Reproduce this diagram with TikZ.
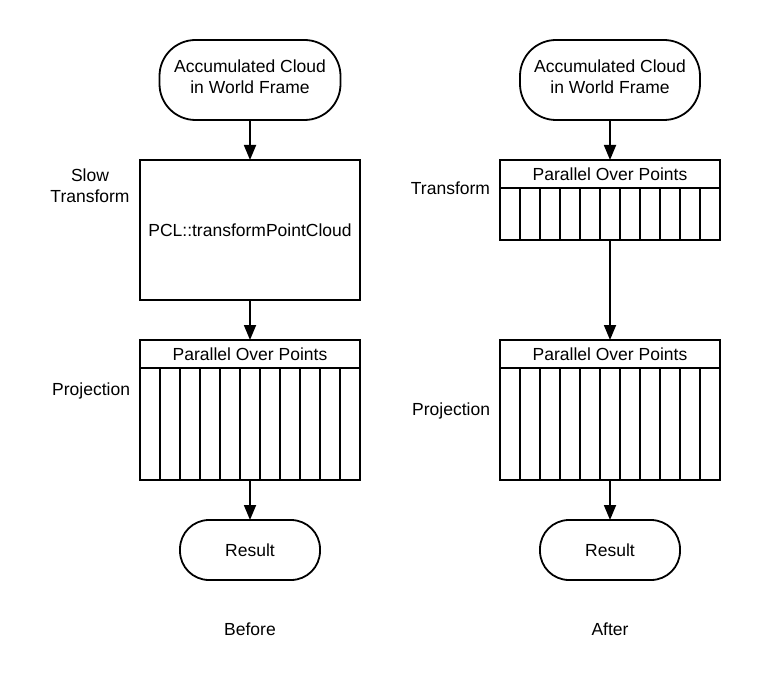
\documentclass[tikz,border=0pt]{standalone}
\usepackage{fontspec}
\setmainfont{Liberation Sans}
\usetikzlibrary{arrows.meta}
\begin{document}
\begin{tikzpicture}[x=1pt,y=-1pt,
  every node/.style={font=\fontsize{17.5}{21}\selectfont, inner sep=0pt, outer sep=0pt},
  ln/.style={line width=1.8pt},
  term/.style={ln, draw, rectangle, rounded corners=36pt, align=center},
  stepbox/.style={ln, draw, rectangle, align=center},
  lbl/.style={align=center},
  arr/.style={ln, -{Triangle[length=15pt,width=12pt]}}
]
\useasboundingbox (0,0) rectangle (770,700);

% ---------- Before ----------
\node[term, text depth=6pt, minimum width=181, minimum height=80] (accA) at (250,80) {Accumulated Cloud\\in World Frame};
\node[stepbox, minimum width=220, minimum height=140] (slow) at (250,230) {PCL::transformPointCloud};
\node[stepbox, minimum width=220, minimum height=140, anchor=north] (projA) at (250,340) {};
\node[stepbox, minimum width=220, minimum height=28, anchor=north] (projAh) at (projA.north) {Parallel Over Points};
\foreach \i in {1,...,10}
  \draw[ln] ([xshift=\i*20pt]projAh.south west) -- ([xshift=\i*20pt]projA.south west);
\node[term, rounded corners=29pt, minimum width=140, minimum height=60] (resA) at (250,550) {Result};

\draw[arr] (accA) -- (slow);
\draw[arr] (slow) -- (projA);
\draw[arr] (projA) -- (resA);

\node[lbl, anchor=base] (lslow) at (90,203) {Slow\\Transform};
\node[anchor=base east] (lprojA) at (130,395) {Projection};
\node[anchor=base] (before) at (250,635) {Before};

% ---------- After ----------
\node[term, text depth=6pt, minimum width=180, minimum height=80] (accB) at (610,80) {Accumulated Cloud\\in World Frame};
\node[stepbox, minimum width=220, minimum height=80, anchor=north] (trB) at (610,160) {};
\node[stepbox, minimum width=220, minimum height=28, anchor=north] (trBh) at (trB.north) {Parallel Over Points};
\foreach \i in {1,...,10}
  \draw[ln] ([xshift=\i*20pt]trBh.south west) -- ([xshift=\i*20pt]trB.south west);
\node[stepbox, minimum width=220, minimum height=140, anchor=north] (projB) at (610,340) {};
\node[stepbox, minimum width=220, minimum height=28, anchor=north] (projBh) at (projB.north) {Parallel Over Points};
\foreach \i in {1,...,10}
  \draw[ln] ([xshift=\i*20pt]projBh.south west) -- ([xshift=\i*20pt]projB.south west);
\node[term, rounded corners=29pt, minimum width=140, minimum height=60] (resB) at (610,550) {Result};

\draw[arr] (accB) -- (trB);
\draw[arr] (trB) -- (projBh);
\draw[arr] (projB) -- (resB);

\node[anchor=base east] (ltrB) at (490,195) {Transform};
\node[anchor=base east] (lprojB) at (490,415) {Projection};
\node[anchor=base] (after) at (610,635) {After};
\end{tikzpicture}
\end{document}
